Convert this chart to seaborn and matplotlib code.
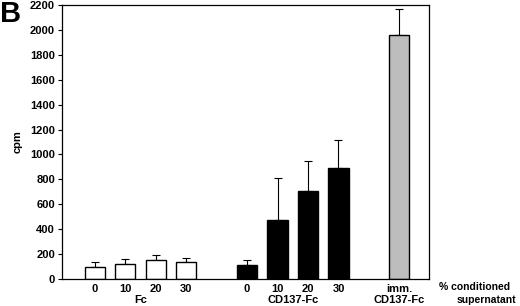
import numpy as np
import pandas as pd
import matplotlib
matplotlib.use("Agg")
import matplotlib.pyplot as plt
import seaborn as sns

labels = ["0", "10", "20", "30", "0", "10", "20", "30", "imm."]
groups = ["Fc", "Fc", "Fc", "Fc", "CD137-Fc", "CD137-Fc", "CD137-Fc", "CD137-Fc", "imm. CD137-Fc"]
cpm = [100, 118, 153, 134, 110, 474, 707, 891, 1957]
err = [36, 40, 37, 32, 40, 340, 241, 228, 214]
positions = [0, 1, 2, 3, 5, 6, 7, 8, 10]
colors = {"Fc": "white", "CD137-Fc": "black", "imm. CD137-Fc": "#bdbdbd"}

df = pd.DataFrame({"pos": positions, "cpm": cpm, "group": groups, "err": err})

sns.set_style("ticks")
plt.rcParams["font.family"] = ["Liberation Sans", "DejaVu Sans"]
plt.rcParams["font.weight"] = "bold"
for k in ["text.color", "axes.labelcolor", "xtick.color", "ytick.color", "axes.edgecolor"]:
    plt.rcParams[k] = "black"

fs = 8
fig = plt.figure(figsize=(5.2, 3.06), dpi=100)
ax = fig.add_axes([62/520, 1-279/306, (429-62)/520, (279-5)/306])

ax.errorbar(df["pos"], df["cpm"], yerr=[np.zeros(len(err)), df["err"]], fmt="none",
            ecolor="black", elinewidth=0.8, capsize=3, capthick=0.8, zorder=1)
sns.barplot(data=df, x="pos", y="cpm", hue="group", palette=colors, native_scale=True,
            width=0.66, dodge=False, edgecolor="black", linewidth=1, legend=False, ax=ax,
            zorder=2)

ax.set_xlim(-1.07, 10.97)
ax.set_ylim(0, 2200)
ax.set_yticks(np.arange(0, 2201, 200))
ax.set_yticklabels([str(v) for v in range(0, 2201, 200)], fontsize=fs, fontweight="bold")
ax.set_xticks(positions)
ax.set_xticklabels(labels, fontsize=fs, fontweight="bold")
ax.tick_params(axis="x", length=0, pad=3.5)
ax.tick_params(axis="y", length=3, width=0.8, pad=2)
for s in ax.spines.values():
    s.set_linewidth(0.9)
    s.set_visible(True)
    s.set_color("black")
ax.set_xlabel("")
ax.set_ylabel("cpm", fontsize=fs, fontweight="bold", labelpad=5)

trans = ax.get_xaxis_transform()
ax.text(1.5, -0.075, "Fc", transform=trans, ha="center", va="center", fontsize=fs, fontweight="bold")
ax.text(6.5, -0.075, "CD137-Fc", transform=trans, ha="center", va="center", fontsize=fs, fontweight="bold")
ax.text(10, -0.075, "CD137-Fc", transform=trans, ha="center", va="center", fontsize=fs, fontweight="bold")
fig.text(475/520, 1-287/306, "% conditioned", ha="center", va="center", fontsize=7.5, fontweight="bold")
fig.text(516/520, 1-300/306, "supernatant", ha="right", va="center", fontsize=7.5, fontweight="bold")
fig.text(0.0, 1-14/306, "B", ha="left", va="center", fontsize=21, fontweight="bold")

fig.savefig("out.png", dpi=100)
